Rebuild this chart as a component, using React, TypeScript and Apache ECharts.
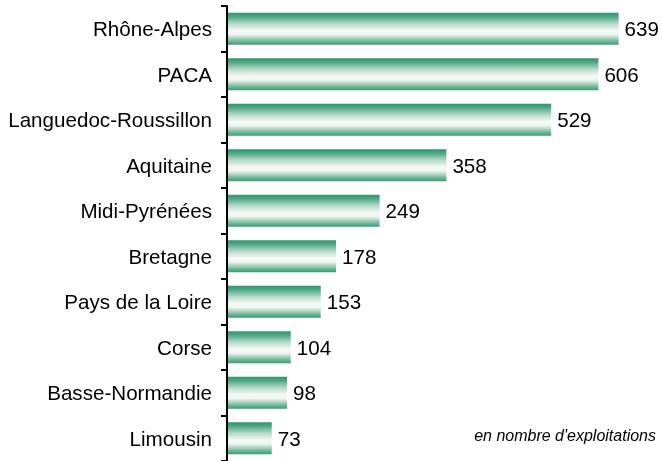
import React, { useEffect, useRef } from "react";
import * as echarts from "echarts";

const regions = [
  "Rhône-Alpes",
  "PACA",
  "Languedoc-Roussillon",
  "Aquitaine",
  "Midi-Pyrénées",
  "Bretagne",
  "Pays de la Loire",
  "Corse",
  "Basse-Normandie",
  "Limousin",
];
const exploitations = [639, 606, 529, 358, 249, 178, 153, 104, 98, 73];
const noteText = "en nombre d'exploitations";

export default function App() {
  const ref = useRef<HTMLDivElement>(null);
  useEffect(() => {
    if (!ref.current) return;
    const chart = echarts.init(ref.current, null, { renderer: "svg" });
    const font = "Liberation Sans, Arial, sans-serif";
    chart.setOption({
      animation: false,
      grid: { left: 227, top: 6, width: 429, height: 457, containLabel: false },
      xAxis: {
        type: "value",
        min: 0,
        max: 700,
        show: false,
      },
      yAxis: {
        type: "category",
        data: regions,
        inverse: true,
        z: 5,
        axisLine: { show: true, lineStyle: { color: "#000", width: 2 } },
        axisTick: { show: true, length: 6, lineStyle: { color: "#000", width: 2 } },
        axisLabel: { color: "#000", fontSize: 20.6, fontFamily: font, margin: 15 },
        splitLine: { show: false },
      },
      series: [
        {
          type: "bar",
          data: exploitations,
          barWidth: "70%",
          itemStyle: {
            color: new echarts.graphic.LinearGradient(0, 0, 0, 1, [
              { offset: 0, color: "#2e9670" },
              { offset: 0.12, color: "#4ea683" },
              { offset: 0.35, color: "#b9dbcb" },
              { offset: 0.56, color: "#f6f9f6" },
              { offset: 0.68, color: "#eef5f0" },
              { offset: 0.9, color: "#6cb595" },
              { offset: 1, color: "#3a9c75" },
            ]),
          },
          label: {
            show: true,
            position: "right",
            distance: 6,
            color: "#000",
            fontSize: 20.6,
            fontFamily: font,
          },
        },
      ],
      graphic: [
        {
          type: "text",
          right: 6,
          top: 427,
          style: {
            text: noteText,
            fontSize: 16,
            fontStyle: "italic",
            fontFamily: font,
            fill: "#000",
          },
        },
      ],
    });
    return () => chart.dispose();
  }, []);
  return (
    <div
      ref={ref}
      style={{ position: "fixed", left: 0, top: 0, width: 662, height: 461 }}
    />
  );
}
